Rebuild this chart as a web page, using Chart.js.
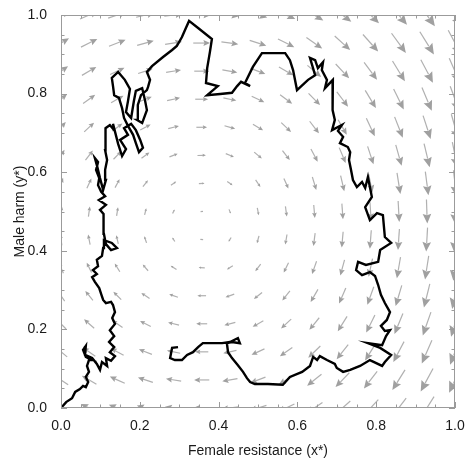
<!DOCTYPE html>
<html>
<head>
<meta charset="utf-8">
<script src="https://cdn.jsdelivr.net/npm/chart.js@4/dist/chart.umd.min.js"></script>
<style>
  html, body { margin: 0; padding: 0; background: #fff; }
  canvas { display: block; }
</style>
</head>
<body>
<canvas id="phase" width="469" height="463"></canvas>
<script>
'use strict';

// direction field: 15 x 15 arrows, centred on these positions
var fieldX = [0, 0.0714, 0.1429, 0.2143, 0.2857, 0.3571, 0.4286, 0.5, 0.5714, 0.6429, 0.7143, 0.7857, 0.8571, 0.9286, 1];
var fieldY = [0, 0.0714, 0.1429, 0.2143, 0.2857, 0.3571, 0.4286, 0.5, 0.5714, 0.6429, 0.7143, 0.7857, 0.8571, 0.9286, 1];
var fieldStep = 0.0714; // one arrow unit = one grid step

// arrow components, one row per fieldY value (row 0 = bottom)
var fieldU = [
  [-.58,-.59,-.60,-.61,-.61,-.61,-.61,-.60,-.59,-.58,-.56,-.55,-.53,-.51,-.50],
  [-.51,-.52,-.53,-.53,-.54,-.54,-.54,-.53,-.52,-.51,-.49,-.47,-.45,-.44,-.42],
  [-.44,-.44,-.45,-.46,-.47,-.47,-.47,-.46,-.44,-.43,-.41,-.39,-.38,-.36,-.35],
  [-.36,-.36,-.37,-.38,-.39,-.39,-.39,-.38,-.36,-.35,-.33,-.31,-.30,-.29,-.28],
  [-.26,-.27,-.28,-.29,-.31,-.31,-.31,-.29,-.27,-.26,-.24,-.23,-.22,-.21,-.20],
  [-.17,-.17,-.18,-.19,-.21,-.22,-.21,-.19,-.17,-.16,-.15,-.14,-.13,-.13,-.12],
  [-.06,-.07,-.07,-.08,-.09,-.10,-.09,-.07,-.06,-.06,-.05,-.05,-.05,-.05,-.04],
  [.05,.05,.05,.06,.07,.08,.06,.05,.05,.04,.04,.04,.04,.03,.03],
  [.15,.16,.16,.18,.19,.20,.19,.17,.16,.14,.13,.13,.12,.11,.11],
  [.25,.26,.27,.28,.29,.30,.29,.27,.26,.24,.23,.21,.21,.20,.19],
  [.34,.35,.36,.37,.38,.38,.38,.36,.35,.33,.31,.30,.29,.27,.26],
  [.42,.43,.44,.45,.46,.46,.46,.45,.43,.41,.40,.38,.36,.35,.34],
  [.50,.51,.51,.52,.53,.53,.53,.52,.51,.49,.48,.46,.44,.43,.41],
  [.57,.58,.59,.59,.60,.60,.60,.59,.58,.56,.55,.54,.51,.50,.48],
  [.65,.65,.65,.66,.66,.66,.66,.66,.65,.64,.63,.60,.59,.57,.55]
];
var fieldV = [
  [.34,.29,.23,.17,.09,.00,-.09,-.19,-.29,-.39,-.50,-.60,-.70,-.81,-.91],
  [.35,.30,.24,.17,.09,.00,-.09,-.20,-.30,-.41,-.51,-.61,-.72,-.82,-.92],
  [.36,.31,.25,.18,.10,.00,-.10,-.21,-.31,-.42,-.52,-.62,-.73,-.83,-.92],
  [.37,.32,.26,.19,.10,.00,-.10,-.22,-.33,-.43,-.53,-.63,-.73,-.83,-.93],
  [.39,.34,.28,.20,.11,.00,-.11,-.23,-.34,-.45,-.55,-.64,-.74,-.84,-.94],
  [.40,.35,.29,.22,.13,.01,-.13,-.25,-.35,-.46,-.55,-.65,-.75,-.84,-.94],
  [.41,.36,.30,.24,.14,.01,-.15,-.26,-.36,-.46,-.56,-.66,-.75,-.85,-.94],
  [.41,.36,.31,.24,.15,.01,-.15,-.26,-.36,-.46,-.56,-.66,-.75,-.85,-.94],
  [.40,.35,.30,.22,.13,.01,-.13,-.25,-.36,-.46,-.55,-.65,-.75,-.84,-.94],
  [.39,.34,.28,.21,.11,.01,-.12,-.23,-.34,-.45,-.55,-.64,-.75,-.84,-.94],
  [.38,.33,.27,.19,.10,.00,-.11,-.22,-.33,-.43,-.54,-.64,-.74,-.83,-.93],
  [.36,.31,.25,.18,.10,.00,-.10,-.21,-.32,-.42,-.53,-.63,-.73,-.83,-.93],
  [.35,.30,.24,.17,.09,.00,-.09,-.20,-.30,-.41,-.51,-.62,-.72,-.82,-.92],
  [.34,.29,.23,.17,.09,.00,-.09,-.19,-.29,-.39,-.50,-.61,-.70,-.81,-.91],
  [.33,.28,.22,.16,.09,.00,-.09,-.18,-.28,-.39,-.49,-.59,-.70,-.80,-.90]
];

// one simulated run, starting at the origin
var pathX = [
  0, .013, .028, .036, .048, .056, .063, .069, .063, .071, .066, .071,
  .079, .063, .056, .063, .061, .079, .091, .099, .104, .117, .114, .127,
  .137, .124, .135, .122, .135, .124, .137, .130, .137, .132, .127, .114,
  .107, .102, .097, .086, .079, .091, .081, .094, .091, .104, .107, .109,
  .129, .142, .127, .114, .109, .107, .109, .099, .114, .096, .112, .102,
  .094, .097, .089, .094, .086, .091, .099, .107, .114, .112, .117, .112,
  .114, .112, .124, .135, .132, .145, .155, .165, .150, .170, .160, .178,
  .190, .201, .208, .198, .190, .183, .170, .160, .155, .147, .135, .132,
  .129, .145, .162, .175, .170, .165, .178, .185, .190, .206, .213, .218,
  .206, .193, .195, .203, .218, .221, .226, .218, .231, .259, .282, .294,
  .307, .317, .325, .348, .383, .378, .371, .368, .398, .371, .404, .434,
  .447, .457, .480, .467, .487, .510, .569, .581, .589, .599, .627, .645,
  .632, .645, .652, .665, .662, .675, .670, .690, .688, .690, .690, .695,
  .688, .713, .703, .716, .708, .728, .734, .731, .736, .741, .751, .764,
  .772, .779, .789, .772, .784, .802, .817, .822, .838, .810, .805, .774,
  .754, .749, .764, .784, .797, .805, .812, .822, .835, .827, .812, .822,
  .835, .825, .815, .779, .810, .838, .822, .815, .784, .759, .734, .716,
  .700, .695, .675, .657, .650, .640, .632, .612, .581, .563, .525, .492,
  .480, .472, .462, .449, .434, .424, .421, .434, .454, .449, .429, .409,
  .386, .360, .348, .335, .320, .307, .289, .277, .282, .297
];
var pathY = [
  0, .015, .025, .041, .048, .056, .053, .066, .079, .092, .107, .122,
  .122, .130, .148, .158, .135, .127, .112, .097, .117, .107, .127, .120,
  .132, .142, .155, .168, .183, .198, .214, .229, .244, .262, .270, .267,
  .275, .290, .305, .321, .333, .341, .351, .361, .377, .387, .407, .427,
  .420, .407, .402, .417, .443, .468, .494, .504, .517, .529, .539, .550,
  .567, .585, .606, .626, .636, .618, .585, .555, .580, .606, .631, .656,
  .682, .712, .720, .707, .723, .672, .641, .659, .682, .695, .712, .723,
  .707, .682, .662, .651, .674, .695, .718, .738, .763, .789, .796, .819,
  .840, .855, .835, .812, .781, .753, .738, .781, .807, .814, .784, .758,
  .725, .733, .771, .796, .809, .817, .835, .855, .870, .893, .911, .921,
  .944, .967, .985, .967, .939, .906, .865, .827, .819, .796, .799, .802,
  .819, .830, .819, .827, .868, .903, .903, .885, .860, .809, .835, .847,
  .891, .885, .865, .880, .860, .835, .814, .835, .809, .784, .758, .733,
  .707, .720, .705, .690, .674, .664, .651, .631, .606, .580, .562, .575,
  .560, .588, .537, .511, .478, .496, .491, .435, .420, .402, .372, .364,
  .372, .351, .338, .346, .336, .313, .288, .267, .244, .224, .209, .196,
  .198, .183, .160, .165, .153, .135, .117, .107, .122, .107, .097, .092,
  .102, .112, .122, .132, .122, .130, .107, .092, .079, .059, .061, .061,
  .066, .076, .092, .109, .127, .142, .165, .168, .165, .178, .168, .165,
  .165, .165, .155, .142, .135, .122, .122, .127, .153, .155
];

var tickValues = [0, 0.2, 0.4, 0.6, 0.8, 1.0];

var pathPoints = pathX.map(function(x, i) { return {x: x, y: pathY[i]}; });

// gray arrows under the path, frame and inward ticks on top
var fieldPlugin = {
  id: 'field',
  beforeDatasetsDraw: function(chart) {
    var ctx = chart.ctx, a = chart.chartArea;
    var sx = chart.scales.x, sy = chart.scales.y;
    ctx.save();
    ctx.beginPath();
    ctx.rect(a.left, a.top, a.right - a.left, a.bottom - a.top);
    ctx.clip();
    ctx.strokeStyle = '#b0b0b0';
    ctx.fillStyle = '#a0a0a0';
    ctx.lineWidth = 1.2;
    for (var j = 0; j < fieldY.length; j++) {
      for (var i = 0; i < fieldX.length; i++) {
        var u = fieldU[j][i] * fieldStep / 2, v = fieldV[j][i] * fieldStep / 2;
        var x0 = sx.getPixelForValue(fieldX[i] - u), y0 = sy.getPixelForValue(fieldY[j] - v);
        var x1 = sx.getPixelForValue(fieldX[i] + u), y1 = sy.getPixelForValue(fieldY[j] + v);
        var dx = x1 - x0, dy = y1 - y0, len = Math.sqrt(dx * dx + dy * dy);
        if (len < 0.5) continue;
        var ux = dx / len, uy = dy / len;
        var hl = len * 0.4, hw = len * 0.18;
        var bx = x1 - ux * hl, by = y1 - uy * hl;
        ctx.beginPath();
        ctx.moveTo(x0, y0);
        ctx.lineTo(bx + ux, by + uy);
        ctx.stroke();
        ctx.beginPath();
        ctx.moveTo(x1, y1);
        ctx.lineTo(bx - uy * hw, by + ux * hw);
        ctx.lineTo(bx + ux * hl * 0.15, by + uy * hl * 0.15);
        ctx.lineTo(bx + uy * hw, by - ux * hw);
        ctx.closePath();
        ctx.fill();
      }
    }
    ctx.restore();
  },
  afterDatasetsDraw: function(chart) {
    var ctx = chart.ctx, a = chart.chartArea;
    var sx = chart.scales.x, sy = chart.scales.y;
    ctx.save();
    ctx.strokeStyle = '#9b9b9b';
    ctx.lineWidth = 1;
    ctx.strokeRect(a.left + 0.5, a.top + 0.5, a.right - a.left - 1, a.bottom - a.top - 1);
    ctx.beginPath();
    for (var k = 0; k <= 20; k++) {
      var t = k / 20, len = (k % 4 === 0) ? 6 : 3.5;
      var px = Math.round(sx.getPixelForValue(t)) + 0.5;
      var py = Math.round(sy.getPixelForValue(t)) + 0.5;
      ctx.moveTo(px, a.bottom); ctx.lineTo(px, a.bottom - len);
      ctx.moveTo(px, a.top); ctx.lineTo(px, a.top + len);
      ctx.moveTo(a.left, py); ctx.lineTo(a.left + len, py);
      ctx.moveTo(a.right, py); ctx.lineTo(a.right - len, py);
    }
    ctx.stroke();
    ctx.restore();
  }
};

var fixTicks = function(scale) {
  scale.ticks = tickValues.map(function(v) { return {value: v}; });
};

new Chart(document.getElementById('phase').getContext('2d'), {
  type: 'scatter',
  data: {
    datasets: [{
      data: pathPoints,
      showLine: true,
      borderColor: '#000',
      borderWidth: 2.4,
      pointRadius: 0,
      tension: 0,
      fill: false
    }]
  },
  options: {
    responsive: false,
    animation: false,
    layout: { padding: { top: 15, right: 14, left: 0, bottom: 0 } },
    plugins: { legend: { display: false }, tooltip: { enabled: false } },
    scales: {
      x: {
        type: 'linear', min: 0, max: 1,
        afterBuildTicks: fixTicks,
        afterFit: function(s) { s.height = 55; },
        grid: { display: false },
        border: { display: false },
        ticks: {
          padding: 2, color: '#1a1a1a', maxRotation: 0,
          font: { family: 'Liberation Sans, Arial, sans-serif', size: 14 },
          callback: function(v) { return v.toFixed(1); }
        },
        title: {
          display: true, text: 'Female resistance (x*)', color: '#1a1a1a',
          font: { family: 'Liberation Sans, Arial, sans-serif', size: 14 },
          padding: { top: 0, bottom: 3 }
        }
      },
      y: {
        type: 'linear', min: 0, max: 1,
        afterBuildTicks: fixTicks,
        afterFit: function(s) { s.width = 61; },
        grid: { display: false },
        border: { display: false },
        ticks: {
          padding: 6, color: '#1a1a1a',
          font: { family: 'Liberation Sans, Arial, sans-serif', size: 14 },
          callback: function(v) { return v.toFixed(1); }
        },
        title: {
          display: true, text: 'Male harm (y*)', color: '#1a1a1a',
          font: { family: 'Liberation Sans, Arial, sans-serif', size: 14 },
          padding: { top: 12, bottom: 0 }
        }
      }
    }
  },
  plugins: [fieldPlugin]
});
</script>
</body>
</html>
